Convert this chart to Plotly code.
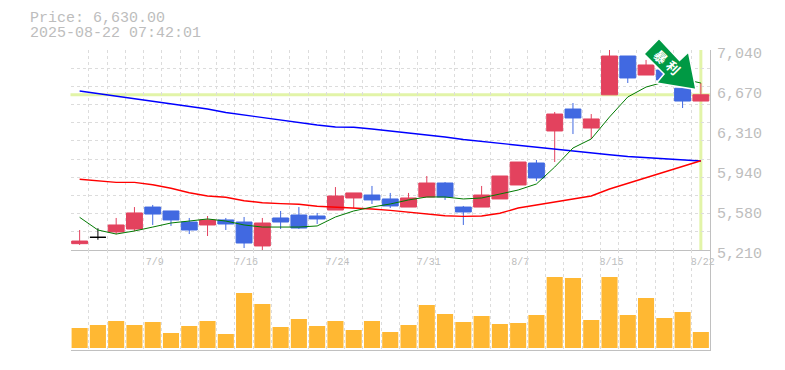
import plotly.graph_objects as go

title_price = "Price: 6,630.00"
title_time = "2025-08-22 07:42:01"
dates = ["7/3","7/4","7/7","7/8","7/9","7/10","7/11","7/14","7/15","7/16","7/17","7/18","7/22","7/23","7/24","7/25","7/28","7/29","7/30","7/31","8/1","8/4","8/5","8/6","8/7","8/8","8/12","8/13","8/14","8/15","8/18","8/19","8/20","8/21","8/22"]
shown_dates = ["7/9","7/16","7/24","7/31","8/7","8/15","8/22"]
tick_values = [7040,6674,6308,5942,5576,5210]
tick_labels = ["7,040","6,670","6,310","5,940","5,580","5,210"]
last_price = 6630

open_ = [5268,5326,5375,5402,5603,5567,5466,5439,5485,5466,5247,5503,5530,5521,5576,5686,5713,5677,5603,5695,5823,5603,5603,5677,5805,6006,6299,6500,6326,6630,6985,6811,6857,6690,6573]
high_ = [5393,5409,5503,5603,5622,5567,5503,5521,5503,5512,5503,5567,5603,5549,5786,5732,5796,5732,5732,5887,5832,5613,5796,5887,6015,6034,6473,6555,6454,7040,6985,6949,6857,6720,6738]
low_  = [5256,5304,5354,5381,5439,5430,5356,5338,5393,5228,5210,5402,5402,5448,5576,5594,5631,5594,5603,5695,5668,5439,5603,5677,5805,5841,6015,6271,6226,6630,6738,6811,6766,6509,6573]
close = [5292,5326,5439,5549,5539,5485,5393,5485,5448,5274,5457,5466,5411,5494,5704,5732,5668,5613,5686,5823,5695,5558,5713,5887,6015,5869,6454,6418,6409,6985,6784,6903,6766,6573,6630]
ma_short = [5509,5393,5356,5384,5420,5457,5475,5494,5475,5439,5420,5420,5420,5430,5512,5567,5603,5631,5668,5695,5695,5677,5686,5722,5759,5814,5969,6143,6226,6427,6610,6701,6747,6775,6738]
ma_mid = [5857,5844,5829,5829,5807,5775,5734,5704,5692,5661,5643,5634,5628,5610,5603,5597,5585,5573,5555,5537,5524,5518,5521,5546,5594,5622,5649,5677,5704,5768,5819,5873,5926,5975,6027]
ma_long = [6665,6642,6619,6596,6573,6550,6523,6500,6468,6445,6418,6395,6372,6354,6335,6333,6317,6299,6285,6267,6244,6221,6203,6184,6166,6150,6131,6116,6098,6081,6066,6054,6044,6034,6024]
volume = [20,23,27,23,26,15,22,27,14,55,44,21,29,22,27,18,27,16,23,43,34,26,32,24,25,33,71,70,28,71,33,50,30,36,16]

W, H = 785, 370
tt = [d if d in shown_dates else "" for d in dates]
GRID = "#dcdcdc"
AXIS = "#c0c0c0"
TXT = "#bdbdbd"
MONO = "Liberation Mono, monospace"
i_doji = 1
def mask(a):
    return [None if i == i_doji else v for i, v in enumerate(a)]

fig = go.Figure()
fig.add_scatter(x=dates, y=ma_long, mode="lines", line=dict(color="#0000ff", width=1.4), hoverinfo="skip", showlegend=False)
fig.add_scatter(x=dates, y=ma_mid, mode="lines", line=dict(color="#ff0000", width=1.4), hoverinfo="skip", showlegend=False)
fig.add_scatter(x=dates, y=ma_short, mode="lines", line=dict(color="#007a00", width=1), hoverinfo="skip", showlegend=False)
fig.add_candlestick(x=dates, open=mask(open_), high=mask(high_), low=mask(low_), close=mask(close), whiskerwidth=0,
    increasing=dict(line=dict(color="#e3425e", width=1), fillcolor="#e3425e"),
    decreasing=dict(line=dict(color="#4169e1", width=1), fillcolor="#4169e1"), showlegend=False)
fig.add_candlestick(x=[dates[i_doji]], open=[open_[i_doji]], high=[high_[i_doji]], low=[low_[i_doji]], close=[close[i_doji]], whiskerwidth=0,
    increasing=dict(line=dict(color="#000000", width=1), fillcolor="#000000"),
    decreasing=dict(line=dict(color="#000000", width=1), fillcolor="#000000"), showlegend=False)
fig.add_bar(x=dates, y=volume, xaxis="x2", yaxis="y2", marker=dict(color="#ffb833", line=dict(width=0)), showlegend=False)

xcommon = dict(type="category", categoryorder="array", categoryarray=dates, range=[-0.5, 34.5], tickson="boundaries",
    tickmode="array", tickvals=dates, ticktext=tt, ticks="", showgrid=True, gridcolor=GRID, griddash="3px,3px", gridwidth=1,
    rangeslider=dict(visible=False), zeroline=False, fixedrange=True, automargin=False, tickangle=0)
fig.update_layout(
    width=W, height=H, margin=dict(l=0, r=0, t=0, b=0), paper_bgcolor="white", plot_bgcolor="white",
    boxgap=0.13, boxgroupgap=0, bargap=0.12, showlegend=False,
    xaxis=dict(xcommon, domain=[70.5/W, 710/W], anchor="y", showticklabels=True, side="bottom", ticklabelstandoff=2,
        tickfont=dict(family=MONO, size=10, color=TXT), ticklabelshift=2, showline=True, linecolor=AXIS, linewidth=1),
    xaxis2=dict(xcommon, domain=[70.5/W, 710/W], anchor="y2", showticklabels=False, showline=True, linecolor=AXIS, linewidth=1),
    yaxis=dict(domain=[1-250/H, 1-50/H], anchor="x", range=[5210, 7040], side="right", tickmode="array",
        tickvals=tick_values, ticktext=tick_labels, ticks="", showgrid=False, zeroline=False, ticklabelshift=3, ticklabelstandoff=3, automargin=False,
        tickfont=dict(family=MONO, size=15, color=TXT), showline=True, linecolor=AXIS, linewidth=1, fixedrange=True,
        minor=dict(tickmode="linear", tick0=5210, dtick=1830/11, showgrid=True, gridcolor=GRID, griddash="3px,3px", gridwidth=1, ticks="")),
    yaxis2=dict(domain=[1-350/H, 1-250/H], anchor="x2", range=[-2, 98], side="right", showticklabels=False, ticks="", automargin=False,
        showgrid=False, zeroline=False, showline=True, linecolor=AXIS, linewidth=1, fixedrange=True),
    shapes=[
        dict(type="line", layer="below", xref="x domain", x0=0, x1=1, yref="y", y0=last_price, y1=last_price, line=dict(color="#e2f4a8", width=3)),
        dict(type="line", layer="below", xref="x", x0=dates[-1], x1=dates[-1], yref="y domain", y0=0, y1=1, line=dict(color="#e2f4a8", width=3)),
        dict(type="path", layer="above", xref="paper", yref="paper", fillcolor="#009944", line=dict(color="white", width=1.5),
            path="M %.4f %.4f L %.4f %.4f L %.4f %.4f L %.4f %.4f L %.4f %.4f L %.4f %.4f L %.4f %.4f Z" % tuple(
                v for p in [(659,38.5),(644,54),(664,74),(656.5,83),(696,89.5),(688.5,52),(679.5,60.5)] for v in (p[0]/W, 1-p[1]/H))),
    ],
    annotations=[
        dict(text=title_price, xref="paper", yref="paper", x=27.5/W, y=1-18.5/H, xanchor="left", yanchor="middle", showarrow=False, font=dict(family=MONO, size=15, color=TXT)),
        dict(text=title_time, xref="paper", yref="paper", x=27.5/W, y=1-33.5/H, xanchor="left", yanchor="middle", showarrow=False, font=dict(family=MONO, size=15, color=TXT)),
        dict(text="暴", xref="paper", yref="paper", x=661/W, y=1-56/H, xanchor="center", yanchor="middle", showarrow=False, textangle=45, font=dict(family="Noto Sans CJK JP", size=13, color="white", weight="bold")),
        dict(text="利", xref="paper", yref="paper", x=673.5/W, y=1-67.5/H, xanchor="center", yanchor="middle", showarrow=False, textangle=45, font=dict(family="Noto Sans CJK JP", size=13, color="white", weight="bold")),
    ],
)
fig.write_html("out.html", config=dict(displayModeBar=False), post_script="document.body.style.margin='0';")
